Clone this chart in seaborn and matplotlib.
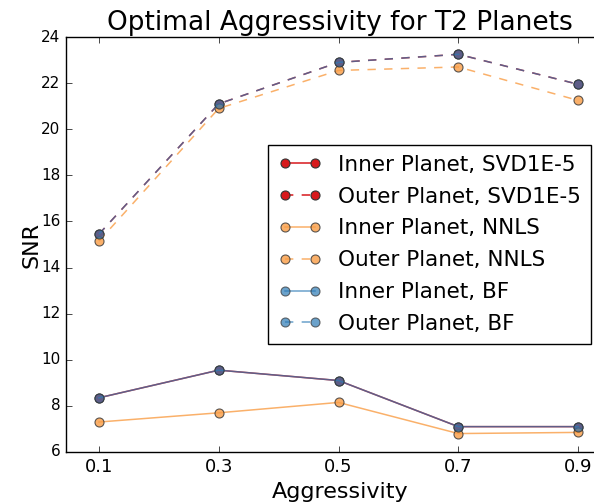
import matplotlib
matplotlib.use("Agg")
import matplotlib.pyplot as plt
import seaborn as sns
import pandas as pd

aggressivity = [0.1, 0.3, 0.5, 0.7, 0.9]
xtick_labels = ["0.1", "0.3", "0.5", "0.7", "0.9"]

inner_svd = [8.35, 9.55, 9.1, 7.1, 7.1]
outer_svd = [15.45, 21.1, 22.9, 23.25, 21.95]
inner_nnls = [7.3, 7.7, 8.15, 6.8, 6.85]
outer_nnls = [15.15, 20.9, 22.55, 22.7, 21.25]
inner_bf = [8.35, 9.55, 9.1, 7.1, 7.1]
outer_bf = [15.45, 21.1, 22.9, 23.25, 21.95]

series = [
    ("Inner Planet, SVD1E-5", inner_svd, "#d7191c", "-", 1.0),
    ("Outer Planet, SVD1E-5", outer_svd, "#d7191c", "--", 1.0),
    ("Inner Planet, NNLS", inner_nnls, "#f99d45", "-", 0.8),
    ("Outer Planet, NNLS", outer_nnls, "#f99d45", "--", 0.8),
    ("Inner Planet, BF", inner_bf, "#2c7bb6", "-", 0.7),
    ("Outer Planet, BF", outer_bf, "#2c7bb6", "--", 0.7),
]

plt.style.use("classic")
plt.rcParams["font.family"] = ["DejaVu Sans"]
fig = plt.figure(figsize=(5.94, 5.04), dpi=100, facecolor="white")
# axes from x=66 to ~614 px, y=37 to 452 px
ax = fig.add_axes([66 / 594, (504 - 452) / 504, 548 / 594, 415 / 504])
ax.set_facecolor("white")

for label, vals, color, ls, alpha in series:
    df = pd.DataFrame({"x": aggressivity, "y": vals})
    sns.lineplot(data=df, x="x", y="y", ax=ax, color=color, linestyle=ls,
                 marker="o", markersize=6.5, markeredgecolor="#333333",
                 markeredgewidth=0.8, alpha=alpha, linewidth=1.1, label=label)

ax.set_xlim(0.045, 0.96)
ax.set_ylim(6, 24)
ax.set_xticks(aggressivity)
ax.set_xticklabels(xtick_labels, fontsize=13)
ax.set_yticks(range(6, 25, 2))
ax.tick_params(axis="y", labelsize=11)
ax.set_xlabel("Aggressivity", fontsize=16)
ax.set_ylabel("SNR", fontsize=16, labelpad=0)
ax.set_title("Optimal Aggressivity for T2 Planets", fontsize=19, y=1.0)

leg = ax.legend(loc="upper right", bbox_to_anchor=(591 / 594, (504 - 145) / 504),
                bbox_transform=fig.transFigure, fontsize=15.5, numpoints=2,
                fancybox=False, frameon=True, handlelength=2.0, borderaxespad=0,
                handletextpad=0.8, borderpad=0.45, labelspacing=0.55)
leg.get_frame().set_edgecolor("black")

fig.savefig("out.png", dpi=100, facecolor="white")
